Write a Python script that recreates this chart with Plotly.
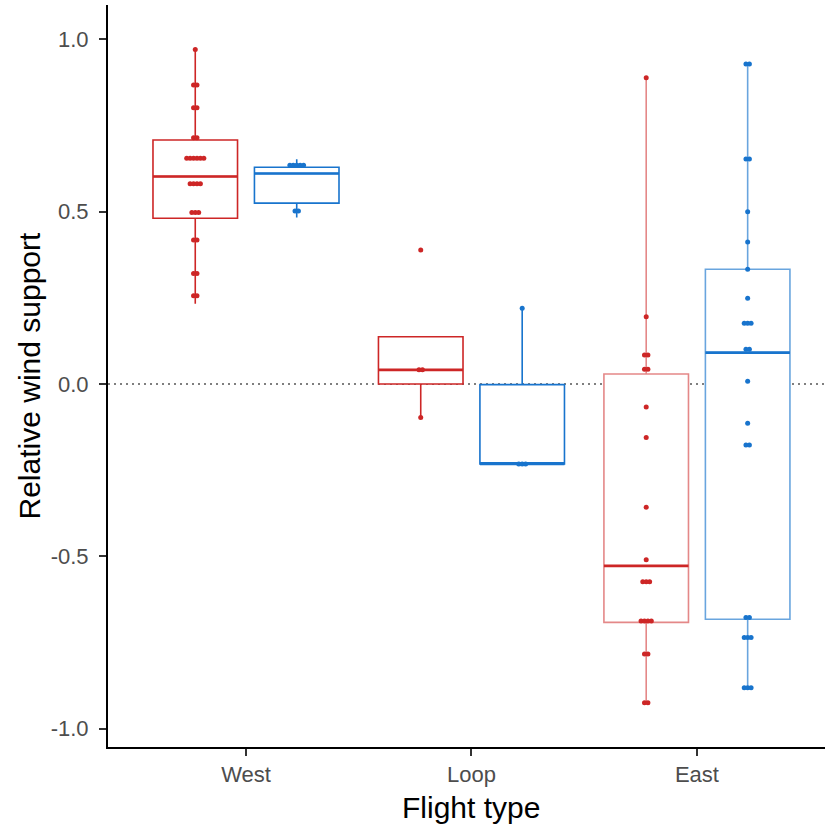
import plotly.graph_objects as go

# ---------------- data ----------------
categories = ["West", "Loop", "East"]
cat_pos = [1, 2, 3]

red_points = {
    "West": [0.971, 0.868, 0.868, 0.802, 0.802, 0.715, 0.715,
             0.655, 0.655, 0.655, 0.655, 0.655, 0.655,
             0.581, 0.581, 0.581, 0.581, 0.498, 0.498, 0.498,
             0.418, 0.418, 0.321, 0.321, 0.256, 0.256],
    "Loop": [0.389, 0.041, 0.041, -0.097],
    "East": [0.889, 0.195, 0.084, 0.084, 0.043, 0.043, -0.067, -0.155,
             -0.358, -0.510, -0.574, -0.574, -0.574,
             -0.688, -0.688, -0.688, -0.688, -0.784, -0.784, -0.925, -0.925],
}
blue_points = {
    "West": [0.635, 0.635, 0.635, 0.635, 0.635, 0.502, 0.502],
    "Loop": [0.22, -0.232, -0.232, -0.232],
    "East": [0.929, 0.929, 0.653, 0.653, 0.500, 0.412, 0.333, 0.249,
             0.176, 0.176, 0.176, 0.101, 0.101, 0.008, -0.114, -0.177, -0.177,
             -0.678, -0.678, -0.736, -0.736, -0.736, -0.882, -0.882, -0.882],
}

# box statistics per category (West, Loop, East)
red_q1 = [0.481, 0.0, -0.692]
red_median = [0.602, 0.041, -0.528]
red_q3 = [0.708, 0.137, 0.029]
red_lower = [0.233, -0.097, -0.925]
red_upper = [0.971, 0.137, 0.889]

blue_q1 = [0.525, -0.232, -0.683]
blue_median = [0.611, -0.232, 0.091]
blue_q3 = [0.629, -0.002, 0.333]
blue_lower = [0.483, -0.232, -0.882]
blue_upper = [0.652, 0.22, 0.929]

y_ticks = [-1.0, -0.5, 0.0, 0.5, 1.0]
y_ticklabels = ["-1.0", "-0.5", "0.0", "0.5", "1.0"]

# ---------------- style ----------------
RED = "#CD2626"
BLUE = "#1874CD"
RED_LIGHT = "rgba(205,38,38,0.55)"
BLUE_LIGHT = "rgba(24,116,205,0.65)"
DODGE = 0.225
BOXW = 0.375
STACK = 0.0152

fig = go.Figure()


def swarm(values, center):
    xs, ys = [], []
    groups = {}
    for v in values:
        groups.setdefault(round(v, 3), []).append(v)
    for key, vals in groups.items():
        n = len(vals)
        for k, v in enumerate(vals):
            xs.append(center + (k - (n - 1) / 2) * STACK)
            ys.append(v)
    return xs, ys


series = [
    (-DODGE, red_points, red_q1, red_median, red_q3, red_lower, red_upper, RED, RED_LIGHT),
    (+DODGE, blue_points, blue_q1, blue_median, blue_q3, blue_lower, blue_upper, BLUE, BLUE_LIGHT),
]

for off, pts, q1, med, q3, lo, up, col, col_light in series:
    for i, cat in enumerate(categories):
        c = cat_pos[i] + off
        lc = col_light if cat == "East" else col
        fig.add_trace(go.Box(
            x=[c], q1=[q1[i]], median=[med[i]], q3=[q3[i]],
            lowerfence=[lo[i]], upperfence=[up[i]],
            width=BOXW, whiskerwidth=0, boxpoints=False,
            fillcolor="white", line=dict(color=lc, width=1.6),
            showlegend=False, hoverinfo="skip",
        ))
        fig.add_trace(go.Scatter(
            x=[c - BOXW / 2, c + BOXW / 2], y=[med[i], med[i]],
            mode="lines", line=dict(color=col, width=2.6),
            showlegend=False, hoverinfo="skip",
        ))
    for i, cat in enumerate(categories):
        c = cat_pos[i] + off
        xs, ys = swarm(pts[cat], c)
        fig.add_trace(go.Scatter(
            x=xs, y=ys, mode="markers",
            marker=dict(color=col, size=5, line=dict(width=0)),
            showlegend=False, hoverinfo="skip",
        ))

fig.add_shape(type="line", xref="paper", yref="y", x0=0, x1=1, y0=0, y1=0,
              line=dict(color="#555555", width=1.5, dash="2px,4px"), layer="below")

fig.update_layout(
    width=825, height=827,
    margin=dict(l=108, r=0, t=5, b=80),
    paper_bgcolor="white", plot_bgcolor="white",
    boxmode="overlay",
    font=dict(family="Liberation Sans, Arial, sans-serif"),
    xaxis=dict(
        range=[0.388, 3.568], tickmode="array", tickvals=cat_pos, ticktext=categories,
        showgrid=False, zeroline=False, showline=True, linecolor="black", linewidth=2,
        ticks="outside", ticklen=7, tickwidth=1.5, tickcolor="#333333",
        tickfont=dict(size=22, color="#4D4D4D"),
    ),
    yaxis=dict(
        range=[-1.0537, 1.100], tickmode="array", tickvals=y_ticks, ticktext=y_ticklabels,
        showgrid=False, zeroline=False, showline=True, linecolor="black", linewidth=2,
        ticks="outside", ticklen=7, tickwidth=1.5, tickcolor="#333333",
        tickfont=dict(size=22, color="#4D4D4D"), ticklabelstandoff=6,
    ),
    annotations=[
        dict(text="Relative wind support", xref="paper", yref="paper",
             x=-0.1095, y=0.5, xanchor="center", yanchor="middle", textangle=-90,
             showarrow=False, font=dict(size=30, color="black")),
        dict(text="Flight type", xref="paper", yref="paper",
             x=0.506, y=-0.081, xanchor="center", yanchor="middle",
             showarrow=False, font=dict(size=30, color="black")),
    ],
)

fig.write_html("out.html")
